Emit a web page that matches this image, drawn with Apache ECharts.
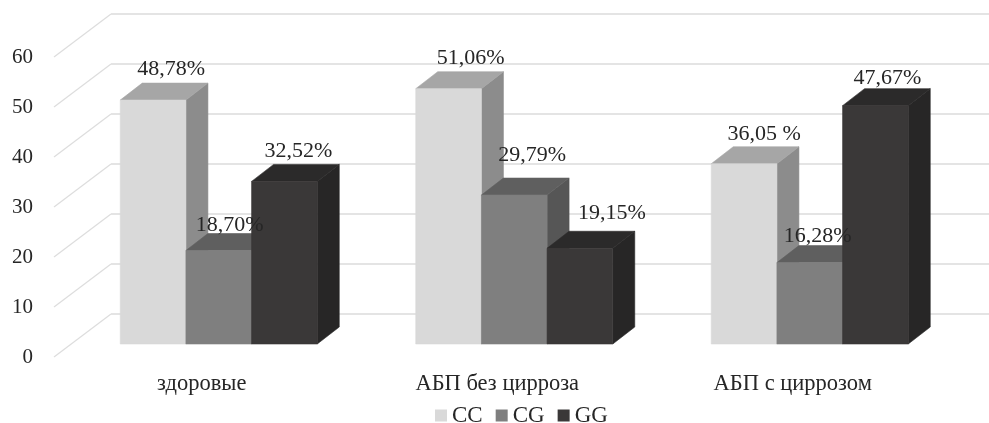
<!DOCTYPE html>
<html>
<head>
<meta charset="utf-8">
<style>html,body{margin:0;padding:0;background:#fff}#chart{width:989px;height:423px}</style>
<script src="https://cdn.jsdelivr.net/npm/echarts@6/dist/echarts.min.js"></script>
</head>
<body>
<div id="chart"></div>
<script>
// Genotype frequencies by patient group
const categories = ['здоровые', 'АБП без цирроза', 'АБП с циррозом'];
const seriesNames = ['CC', 'CG', 'GG'];
const valuesCC = [48.78, 51.06, 36.05];
const valuesCG = [18.70, 29.79, 16.28];
const valuesGG = [32.52, 19.15, 47.67];
const labelsCC = ['48,78%', '51,06%', '36,05 %'];
const labelsCG = ['18,70%', '29,79%', '16,28%'];
const labelsGG = ['32,52%', '19,15%', '47,67%'];
const axisTicks = [0, 10, 20, 30, 40, 50, 60];

// Hand-placed label offsets from the top of each bar, in pixels
const labelShiftCC = [[7, -14], [11, -13], [9, -13]];
const labelShiftCG = [[0, -8], [7, -23], [-3, -9]];
const labelShiftGG = [[3, -13], [21, -18], [1, -10]];

const FONT = '"Liberation Serif", serif';
const TEXT = '#262626';
const WALL = { dx: 57, dy: -43 };     // depth of the whole plot box
const INSET = { dx: 17, dy: -13 };    // bars stand this far behind the front edge
const BAR_DEPTH = { dx: 22, dy: -17 };
const BARS_PER_BAND = 4.5;            // three bars plus the gap between clusters

const facePalette = [
  { front: '#d9d9d9', side: '#8c8c8c', top: '#a6a6a6' },
  { front: '#7f7f7f', side: '#565656', top: '#5f5f5f' },
  { front: '#3a3838', side: '#272626', top: '#2b2a2a' }
];

function barBox(api, offsetIndex) {
  const cat = api.value(0);
  const top = api.coord([cat, api.value(1)]);
  const base = api.coord([cat, 0]);
  const w = api.size([1, 0])[0] / BARS_PER_BAND;
  const x = top[0] + INSET.dx + (offsetIndex - 1.5) * w;
  return { x, w, top: top[1] + INSET.dy, base: base[1] + INSET.dy };
}

function polygon(points, fill, stroke) {
  return {
    type: 'polygon',
    shape: { points },
    style: { fill, stroke: stroke || fill, lineWidth: 0.6 }
  };
}

function barRenderer(offsetIndex) {
  const faces = facePalette[offsetIndex];
  return function (params, api) {
    const b = barBox(api, offsetIndex);
    const d = BAR_DEPTH;
    const r = b.x + b.w;
    return {
      type: 'group',
      children: [
        polygon([[r, b.top], [r + d.dx, b.top + d.dy], [r + d.dx, b.base + d.dy], [r, b.base]], faces.side),
        polygon([[b.x, b.top], [b.x + d.dx, b.top + d.dy], [r + d.dx, b.top + d.dy], [r, b.top]], faces.top),
        polygon([[b.x, b.top], [r, b.top], [r, b.base], [b.x, b.base]], faces.front)
      ]
    };
  };
}

function labelRenderer(offsetIndex, texts, shifts) {
  return function (params, api) {
    const b = barBox(api, offsetIndex);
    const i = params.dataIndex;
    return {
      type: 'text',
      style: {
        text: texts[i],
        x: b.x + b.w / 2 + BAR_DEPTH.dx / 2 + shifts[i][0],
        y: b.top + BAR_DEPTH.dy + shifts[i][1],
        font: '22px ' + FONT,
        fill: TEXT,
        align: 'center',
        verticalAlign: 'middle'
      }
    };
  };
}

// Back wall lines plus the diagonals running along the left side wall
function wallRenderer(params, api) {
  const y = api.coord([0, api.value(1)])[1];
  const grid = params.coordSys;
  const bx = grid.x + WALL.dx;
  const by = y + WALL.dy;
  return {
    type: 'group',
    children: [
      { type: 'line', shape: { x1: grid.x, y1: y, x2: bx, y2: by },
        style: { stroke: '#dddddd', lineWidth: 1.2 } },
      { type: 'line', shape: { x1: bx, y1: by, x2: grid.x + grid.width + WALL.dx, y2: by },
        style: { stroke: '#e4e4e4', lineWidth: 1.8 } }
    ]
  };
}

function rows(values) {
  return values.map((v, i) => [i, v]);
}

const allValues = [valuesCC, valuesCG, valuesGG];
const allLabels = [labelsCC, labelsCG, labelsGG];
const allShifts = [labelShiftCC, labelShiftCG, labelShiftGG];

const common = { type: 'custom', clip: false, silent: true, animation: false, encode: { x: 0, y: 1 } };

const option = {
  animation: false,
  backgroundColor: '#ffffff',
  grid: { left: 54, top: 57, width: 886.5, height: 300 },
  legend: {
    data: seriesNames,
    left: 435,
    top: 404,
    icon: 'rect',
    itemWidth: 12,
    itemHeight: 12,
    itemGap: 13,
    textStyle: { fontFamily: FONT, fontSize: 23, color: TEXT },
    padding: 0,
    selectedMode: false
  },
  xAxis: {
    type: 'category',
    data: categories,
    axisLine: { show: false },
    axisTick: { show: false },
    axisLabel: { fontFamily: FONT, fontSize: 22.5, color: TEXT, margin: 16 }
  },
  yAxis: {
    type: 'value',
    min: 0,
    max: 60,
    interval: 10,
    axisLine: { show: false },
    axisTick: { show: false },
    splitLine: { show: false },
    axisLabel: { fontFamily: FONT, fontSize: 21, color: TEXT, margin: 21 }
  },
  series: [
    Object.assign({}, common, {
      name: 'wall', z: 1,
      data: axisTicks.map(t => [0, t]),
      renderItem: wallRenderer
    }),
    ...seriesNames.map((name, k) => Object.assign({}, common, {
      name, z: 2 + k,
      itemStyle: { color: facePalette[k].front },
      data: rows(allValues[k]),
      renderItem: barRenderer(k)
    })),
    ...seriesNames.map((name, k) => Object.assign({}, common, {
      name: name + ' labels', z: 10,
      data: rows(allValues[k]),
      renderItem: labelRenderer(k, allLabels[k], allShifts[k])
    }))
  ]
};

echarts.init(document.getElementById('chart'), null, { renderer: 'canvas' }).setOption(option);
</script>
</body>
</html>
